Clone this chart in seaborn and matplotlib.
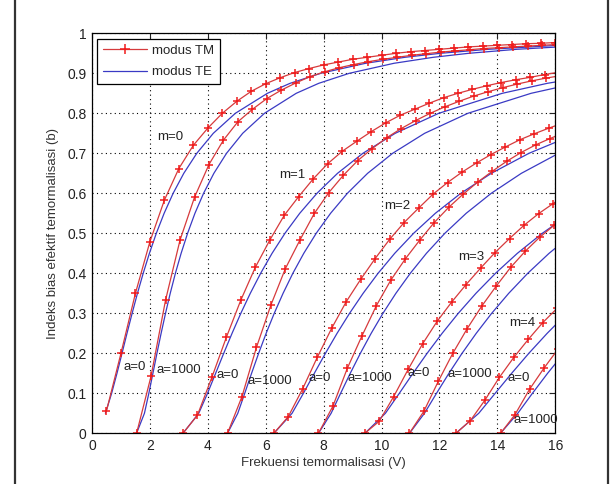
import matplotlib
matplotlib.use("Agg")
import matplotlib.pyplot as plt
from matplotlib.lines import Line2D
import numpy as np
import pandas as pd
import seaborn as sns

# TM mode (red +): b read at each marker, markers every 0.5 in V from the curve start
tm_start = [0.5, 1.54, 3.14, 4.68, 6.28, 7.82, 9.42, 10.96, 12.57, 14.11]
tm_m0_a0 = [0.056, 0.20, 0.35, 0.479, 0.583, 0.662, 0.72, 0.763, 0.80, 0.83, 0.855,
            0.874, 0.889, 0.902, 0.912, 0.921, 0.928, 0.935, 0.94, 0.945, 0.95,
            0.954, 0.957, 0.96, 0.963, 0.966, 0.968, 0.97, 0.972, 0.974, 0.975, 0.977]
tm_m0_a1000 = [0, 0.143, 0.333, 0.483, 0.59, 0.672, 0.733, 0.779, 0.81, 0.837, 0.858,
               0.876, 0.892, 0.904, 0.914, 0.922, 0.929, 0.935, 0.94, 0.945, 0.949,
               0.953, 0.956, 0.959, 0.962, 0.964, 0.966, 0.968, 0.970, 0.972]
tm_m1_a0 = [0, 0.045, 0.14, 0.24, 0.333, 0.415, 0.483, 0.545, 0.592, 0.636, 0.674,
            0.705, 0.73, 0.754, 0.776, 0.795, 0.81, 0.825, 0.839, 0.85, 0.86,
            0.869, 0.877, 0.884, 0.89, 0.897, 0.903]
tm_m1_a1000 = [0, 0.092, 0.215, 0.321, 0.412, 0.483, 0.55, 0.602, 0.645, 0.682, 0.712,
               0.739, 0.762, 0.782, 0.80, 0.816, 0.83, 0.843, 0.854, 0.864, 0.873,
               0.881, 0.888, 0.894]
tm_m2_a0 = [0, 0.042, 0.112, 0.19, 0.263, 0.329, 0.385, 0.437, 0.485, 0.527, 0.563,
            0.598, 0.627, 0.653, 0.676, 0.697, 0.716, 0.734, 0.749, 0.763, 0.776]
tm_m2_a1000 = [0, 0.068, 0.163, 0.243, 0.319, 0.383, 0.436, 0.483, 0.527, 0.565, 0.598,
               0.628, 0.655, 0.68, 0.702, 0.721, 0.737, 0.752]
tm_m3_a0 = [0, 0.03, 0.092, 0.16, 0.224, 0.28, 0.328, 0.372, 0.413, 0.452, 0.487,
            0.52, 0.549, 0.574, 0.598]
tm_m3_a1000 = [0, 0.055, 0.13, 0.2, 0.262, 0.318, 0.368, 0.415, 0.455, 0.49, 0.52, 0.55]
tm_m4_a0 = [0, 0.032, 0.083, 0.14, 0.19, 0.235, 0.277, 0.313]
tm_m4_a1000 = [0, 0.047, 0.11, 0.163, 0.212]

# TE mode (blue): V where each curve crosses these b levels
te_b_levels = [0, 0.05, 0.1, 0.15, 0.2, 0.25, 0.3, 0.35, 0.4, 0.45, 0.5, 0.55, 0.6,
               0.65, 0.7, 0.75, 0.8, 0.85, 0.875, 0.9, 0.925, 0.94, 0.95, 0.96, 0.97]
te_m0_a0 = [np.nan, 0.463, 0.678, 0.863, 1.037, 1.209, 1.386, 1.570, 1.768, 1.983,
            2.221, 2.491, 2.802, 3.170, 3.619, 4.189, 4.951, 6.058, 6.842, 7.900,
            9.446, 10.805, 12.032, 13.694, 16.128]
te_m0_a1000 = [1.539, 1.811, 1.963, 2.104, 2.243, 2.387, 2.539, 2.702, 2.880, 3.078,
               3.301, 3.555, 3.853, 4.209, 4.646, 5.204, 5.956, 7.053, 7.832, 8.885,
               10.427, 11.784, 13.009, 14.670, 17.101]
te_m1_a0 = [3.142, 3.686, 3.990, 4.270, 4.549, 4.837, 5.140, 5.467, 5.824, 6.219,
            6.664, 7.174, 7.769, 8.480, 9.355, 10.472, 11.976, 14.169, 15.727, 17.834]
te_m1_a1000 = [4.681, 5.035, 5.275, 5.511, 5.755, 6.014, 6.294, 6.599, 6.936, 7.314,
               7.743, 8.239, 8.820, 9.519, 10.382, 11.488, 12.981, 15.165, 16.718]
te_m2_a0 = [6.283, 6.909, 7.301, 7.678, 8.062, 8.464, 8.895, 9.364, 9.879, 10.455,
            11.107, 11.857, 12.737, 13.791, 15.091, 16.755]
te_m2_a1000 = [7.822, 8.258, 8.586, 8.919, 9.268, 9.642, 10.048, 10.495, 10.992,
               11.550, 12.186, 12.922, 13.788, 14.829, 16.117]
te_m3_a0 = [9.425, 10.132, 10.613, 11.085, 11.574, 12.092, 12.650, 13.260, 13.935,
            14.691, 15.550, 16.541]
te_m3_a1000 = [10.964, 11.481, 11.898, 12.326, 12.780, 13.270, 13.803, 14.392,
               15.048, 15.786, 16.629]
te_m4_a0 = [12.566, 13.356, 13.924, 14.493, 15.086, 15.720, 16.405]
te_m4_a1000 = [14.106, 14.704, 15.210, 15.734, 16.293]

mode_labels = ["m=0", "m=1", "m=2", "m=3", "m=4"]
asym_labels = ["a=0", "a=1000"] * 5
x_ticks = [0, 2, 4, 6, 8, 10, 12, 14, 16]
y_ticks = [0, 0.1, 0.2, 0.3, 0.4, 0.5, 0.6, 0.7, 0.8, 0.9, 1]
y_tick_labels = ["0", "0.1", "0.2", "0.3", "0.4", "0.5", "0.6", "0.7", "0.8", "0.9", "1"]

tm_curves = [tm_m0_a0, tm_m0_a1000, tm_m1_a0, tm_m1_a1000, tm_m2_a0,
             tm_m2_a1000, tm_m3_a0, tm_m3_a1000, tm_m4_a0, tm_m4_a1000]
te_curves = [te_m0_a0, te_m0_a1000, te_m1_a0, te_m1_a1000, te_m2_a0,
             te_m2_a1000, te_m3_a0, te_m3_a1000, te_m4_a0, te_m4_a1000]

rows = []
for i, (v0, bs) in enumerate(zip(tm_start, tm_curves)):
    for k, b in enumerate(bs):
        rows.append({"curve": i, "V": v0 + 0.5 * k, "b": b})
df_tm = pd.DataFrame(rows)

rows = []
for i, vs in enumerate(te_curves):
    for v, b in zip(vs, te_b_levels):
        rows.append({"curve": i, "V": v, "b": b})
df_te = pd.DataFrame(rows).dropna()

sns.set_style("white")
plt.rcParams["font.family"] = ["Liberation Sans", "DejaVu Sans"]

RED = "#d63a3c"
RED_MK = "#f01c1c"
BLUE = "#3a3ac4"

fig = plt.figure(figsize=(6.12, 4.84), dpi=100)
ax = fig.add_axes([92 / 612, 1 - 433.3 / 484, (555.3 - 92) / 612, 400 / 484])

sns.lineplot(data=df_te, x="V", y="b", units="curve", estimator=None, sort=False,
             color=BLUE, lw=0.9, ax=ax)
sns.lineplot(data=df_tm, x="V", y="b", units="curve", estimator=None, sort=False,
             color=RED, lw=0.9, marker="+", markersize=6, markeredgewidth=1.1,
             markeredgecolor=RED_MK, ax=ax)

ax.set_xlim(0, 16)
ax.set_ylim(0, 1)
ax.set_xticks(x_ticks)
ax.set_xticklabels([str(t) for t in x_ticks])
ax.set_yticks(y_ticks)
ax.set_yticklabels(y_tick_labels)
ax.grid(True, color="black", linestyle=(0, (1, 3)), linewidth=0.8)
ax.tick_params(direction="in", length=4, width=0.8, top=True, right=True,
               labelsize=10, colors="#222222", pad=4)
for s in ax.spines.values():
    s.set_color("black")
    s.set_linewidth(0.9)

ax.set_xlabel("Frekuensi temormalisasi (V)", fontsize=9.5, color="#333333", labelpad=3)
ax.set_ylabel("Indeks bias efektif temormalisasi (b)", fontsize=9.5, color="#333333",
              labelpad=6)

# mode number and asymmetry labels
mode_pos = [(2.7, 0.742), (6.93, 0.646), (10.54, 0.569), (13.1, 0.442), (14.86, 0.275)]
for lab, (x, y) in zip(mode_labels, mode_pos):
    ax.text(x, y, lab, fontsize=9.5, color="#222222", ha="center", va="center")
asym_pos = [(1.46, 0.167), (3.01, 0.158), (4.7, 0.146), (6.15, 0.131), (7.88, 0.1375),
            (9.59, 0.139), (11.28, 0.15), (13.04, 0.1475), (14.73, 0.1375), (15.31, 0.033)]
for lab, (x, y) in zip(asym_labels, asym_pos):
    ax.text(x, y, lab, fontsize=9.5, color="#222222", ha="center", va="center")

handles = [
    Line2D([], [], color=RED, lw=0.9, marker="+", markersize=7, markeredgewidth=1.1,
           markeredgecolor=RED_MK),
    Line2D([], [], color=BLUE, lw=0.9),
]
leg = ax.legend(handles, ["modus TM", "modus TE"], loc="upper left", fontsize=9.5,
                handlelength=3.3, handletextpad=0.4, labelspacing=0.7, borderpad=0.45,
                borderaxespad=0.4, fancybox=False, framealpha=1, edgecolor="black",
                numpoints=1)
leg.get_frame().set_linewidth(0.9)

# vertical page rules on both sides
for xf in [15 / 612, 608 / 612]:
    fig.add_artist(Line2D([xf, xf], [0, 1], transform=fig.transFigure,
                          color="#333333", lw=1.6))

fig.savefig("out.png", dpi=100)
